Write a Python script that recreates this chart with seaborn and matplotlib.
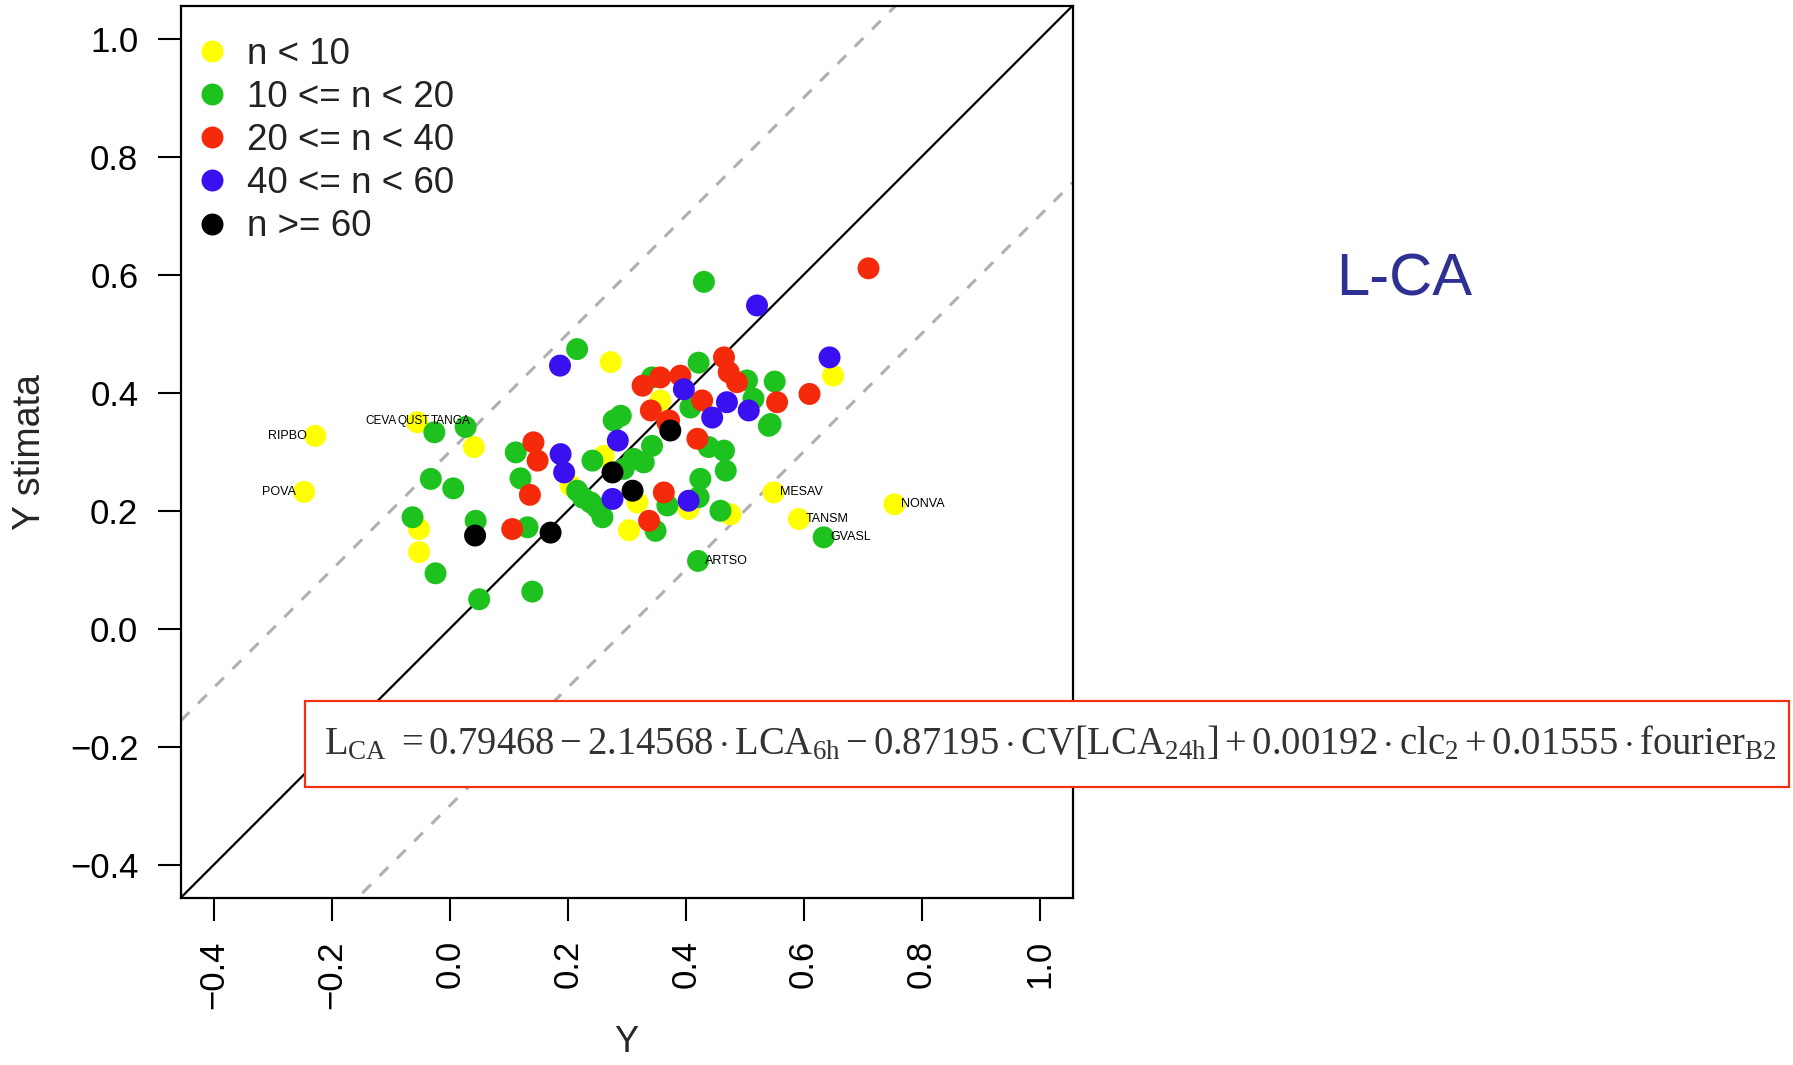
import numpy as np
import pandas as pd
import matplotlib
matplotlib.use("Agg")
import matplotlib.pyplot as plt
import seaborn as sns
from matplotlib.patches import Rectangle
from matplotlib import font_manager as fm

# ---------------- data ----------------
groups = ["n < 10", "10 <= n < 20", "20 <= n < 40", "40 <= n < 60", "n >= 60"]
colors = ["#FFFF00", "#1EC21E", "#F52A0A", "#3A10F0", "#000000"]

yellow_x = [-0.228, -0.247, -0.055, 0.041, -0.052, -0.052, 0.273, 0.357, 0.205, 0.261,
            0.318, 0.304, 0.405, 0.476, 0.650, 0.549, 0.592, 0.754]
yellow_y = [0.327, 0.232, 0.350, 0.308, 0.169, 0.130, 0.452, 0.387, 0.243, 0.293,
            0.214, 0.167, 0.203, 0.194, 0.429, 0.231, 0.186, 0.211]

green_x = [-0.026, 0.027, -0.032, 0.006, -0.063, -0.024, 0.044, 0.050, 0.140, 0.132,
           0.112, 0.120, 0.278, 0.242, 0.216, 0.239, 0.259, 0.295, 0.312, 0.343,
           0.329, 0.439, 0.465, 0.468, 0.425, 0.541, 0.369, 0.422, 0.349, 0.459,
           0.634, 0.421, 0.431, 0.551, 0.544, 0.515, 0.504, 0.422, 0.343, 0.408,
           0.290, 0.216, 0.250, 0.226]
green_y = [0.333, 0.342, 0.254, 0.238, 0.189, 0.094, 0.183, 0.050, 0.063, 0.172,
           0.299, 0.255, 0.353, 0.285, 0.234, 0.214, 0.189, 0.271, 0.288, 0.310,
           0.282, 0.308, 0.302, 0.268, 0.254, 0.344, 0.209, 0.223, 0.166, 0.200,
           0.155, 0.115, 0.588, 0.419, 0.347, 0.390, 0.421, 0.451, 0.426, 0.375,
           0.361, 0.474, 0.205, 0.222]

red_x = [0.106, 0.142, 0.149, 0.136, 0.369, 0.420, 0.363, 0.338, 0.710, 0.610,
         0.555, 0.487, 0.473, 0.465, 0.391, 0.327, 0.357, 0.341, 0.428, 0.372]
red_y = [0.169, 0.316, 0.285, 0.227, 0.350, 0.322, 0.231, 0.183, 0.611, 0.398,
         0.384, 0.418, 0.435, 0.460, 0.429, 0.412, 0.426, 0.370, 0.387, 0.353]

blue_x = [0.188, 0.194, 0.285, 0.276, 0.405, 0.521, 0.644, 0.507, 0.470, 0.397, 0.445, 0.187]
blue_y = [0.296, 0.265, 0.319, 0.220, 0.217, 0.548, 0.460, 0.370, 0.384, 0.406, 0.358, 0.446]

black_x = [0.043, 0.171, 0.276, 0.310, 0.374]
black_y = [0.158, 0.163, 0.265, 0.234, 0.336]

# labelled stations
label_names = ["RIPBO", "POVA", "MESAV", "TANSM", "NONVA", "GVASL", "ARTSO"]
label_x = [-0.228, -0.247, 0.549, 0.592, 0.754, 0.634, 0.421]
label_y = [0.327, 0.232, 0.231, 0.186, 0.211, 0.155, 0.115]
label_side = ["left", "left", "right", "right", "right", "right", "right"]
# overlapping cluster of names around the point (-0.055, 0.350)
cluster_names = ["CEVA", "QUST", "TANGA"]
cluster_x = -0.055
cluster_y = 0.350

ticks = [-0.4, -0.2, 0.0, 0.2, 0.4, 0.6, 0.8, 1.0]
tick_labels = ["\u22120.4", "\u22120.2", "0.0", "0.2", "0.4", "0.6", "0.8", "1.0"]
band = 0.3

formula = (r"$\mathrm{L_{CA}}\ =0.79468-2.14568\cdot\mathrm{LCA_{6h}}-0.87195\cdot"
           r"\mathrm{CV[LCA_{24h}]}+0.00192\cdot\mathrm{clc_{2}}+0.01555\cdot\mathrm{fourier_{B2}}$")

# ---------------- frame ----------------
df = pd.DataFrame({
    "Y": yellow_x + green_x + red_x + blue_x + black_x,
    "Ys": yellow_y + green_y + red_y + blue_y + black_y,
    "group": ([groups[0]] * len(yellow_x) + [groups[1]] * len(green_x) + [groups[2]] * len(red_x)
              + [groups[3]] * len(blue_x) + [groups[4]] * len(black_x)),
})

sns.set_theme(style="white")
avail = {f.name for f in fm.fontManager.ttflist}
sans = "Liberation Sans" if "Liberation Sans" in avail else "DejaVu Sans"
narrow = "Liberation Sans Narrow" if "Liberation Sans Narrow" in avail else sans
plt.rcParams["font.family"] = [sans, "DejaVu Sans"]
plt.rcParams["mathtext.fontset"] = "custom"
plt.rcParams["mathtext.rm"] = "Liberation Serif"
plt.rcParams["mathtext.it"] = "Liberation Serif:italic"
plt.rcParams["mathtext.bf"] = "Liberation Serif:bold"

fig = plt.figure(figsize=(17.93, 10.65), dpi=100)
ax = fig.add_axes([0.1008, 0.157, 0.4974, 0.8376])

lo, hi = -0.456, 1.056
ax.plot([lo, hi], [lo, hi], color="black", lw=1.6, zorder=1)
ax.plot([lo, hi], [lo + band, hi + band], color="#B0B0B0", lw=2.2, ls=(0, (4, 4)), zorder=1)
ax.plot([lo, hi], [lo - band, hi - band], color="#B0B0B0", lw=2.2, ls=(0, (4, 4)), zorder=1)

sns.scatterplot(data=df, x="Y", y="Ys", hue="group", hue_order=groups,
                palette=dict(zip(groups, colors)), s=250, linewidth=0, ax=ax, zorder=3)

for name, x, y, side in zip(label_names, label_x, label_y, label_side):
    off = -6 if side == "left" else 5
    ax.annotate(name, (x, y), xytext=(off, 0), textcoords="offset points",
                ha="right" if side == "left" else "left", va="center",
                fontsize=9, color="black", zorder=4, family=[sans])

ax.set_xlim(lo, hi)
ax.set_ylim(lo, hi)
ax.set_xticks(ticks)
ax.set_xticklabels(tick_labels, rotation=90)
ax.set_yticks(ticks)
ax.set_yticklabels(tick_labels)
ax.tick_params(axis="both", which="major", direction="out", length=16.5, width=1.5,
               pad=14, labelsize=25, colors="black", bottom=True, left=True)
for sp in ax.spines.values():
    sp.set_color("black")
    sp.set_linewidth(1.6)
ax.set_xlabel("Y", fontsize=26, labelpad=12, family=[narrow])
ax.set_ylabel("Y stimata", fontsize=27, labelpad=16, family=[narrow])

handles, labels = ax.get_legend_handles_labels()
leg = ax.legend(handles, labels, loc="upper left", bbox_to_anchor=(-0.0125, 1.0), frameon=False,
                fontsize=26.5, handlelength=0.6, handletextpad=0.65, labelspacing=0.22,
                borderaxespad=0.3, borderpad=0.55, markerscale=1.0)
for t in leg.get_texts():
    t.set_color("#222222")

fig.text(0.783, 0.737, "L-CA", fontsize=43, color="#2E3192", ha="center", va="center")

# formula box
fig.add_artist(Rectangle((0.170, 0.261), 0.828, 0.081, transform=fig.transFigure,
                         facecolor="white", edgecolor="#F03010", lw=1.6, zorder=5))
ft = fig.text(0.5856, 0.302, formula, fontsize=26, color="#333333", ha="center", va="center", zorder=6)
fig.canvas.draw()
w = ft.get_window_extent().width
ft.set_fontsize(26 * 1452.0 / w)

# cluster labels laid side by side (no overlap), starting left of the point
renderer = fig.canvas.get_renderer()
px, py = ax.transData.transform((cluster_x, cluster_y))
cur = px - 52
for nm in cluster_names:
    t = ax.text(cur, py + 1, nm, transform=None, ha="left", va="center", fontsize=8.5,
                color="black", zorder=4, family=[sans])
    cur = t.get_window_extent(renderer).x1 + 1

fig.savefig("out.png", dpi=100, facecolor="white")
